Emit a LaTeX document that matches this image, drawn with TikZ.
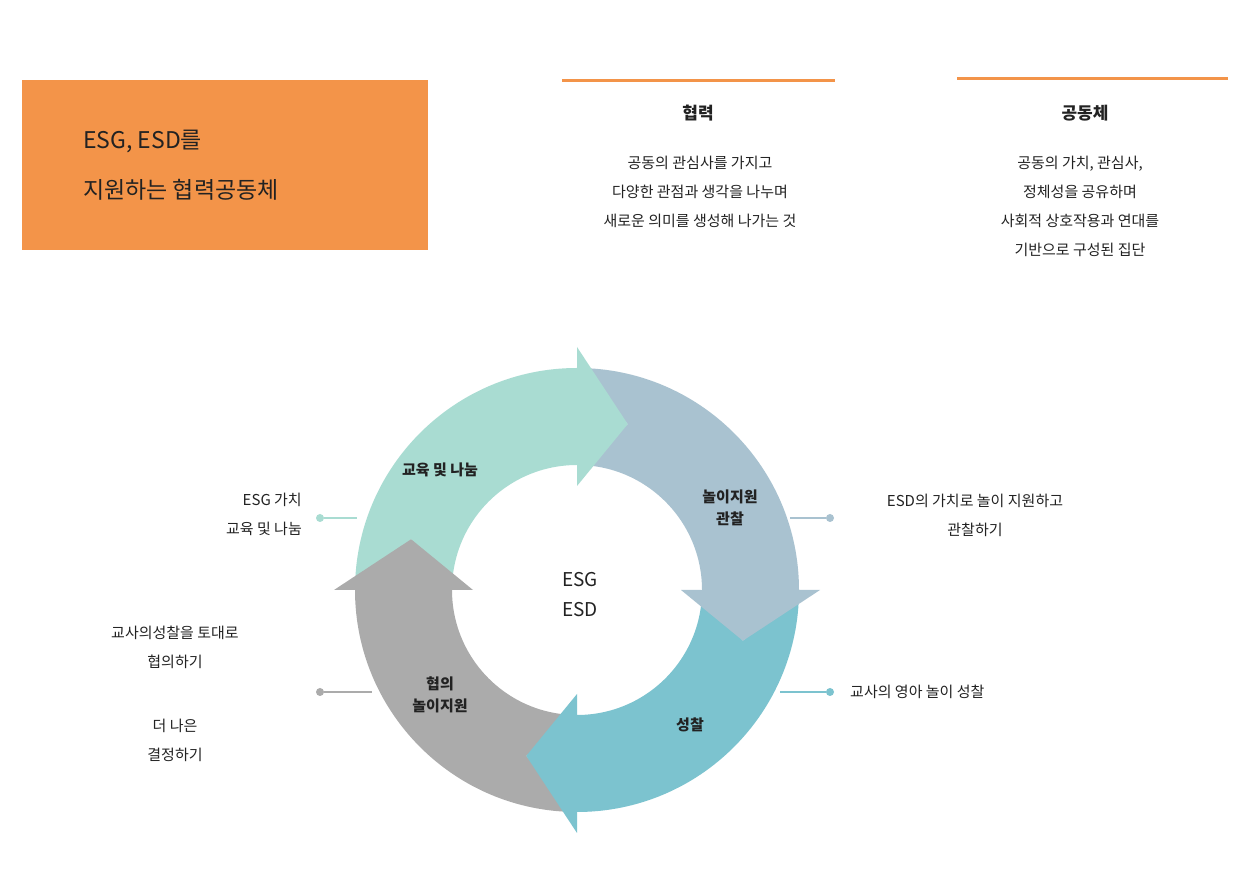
\documentclass[tikz,border=0pt]{standalone}
\usepackage{fontspec}
\setmainfont{Noto Sans CJK KR}
\definecolor{orng}{HTML}{F39449}
\definecolor{cA}{HTML}{A9DCD2}
\definecolor{cB}{HTML}{A9C2D0}
\definecolor{cC}{HTML}{7CC3CF}
\definecolor{cD}{HTML}{ABABAB}
\definecolor{txt}{HTML}{222222}
\tikzset{
 body/.style={font=\fontsize{15}{29}\selectfont, text=txt, align=center, inner sep=0pt},
 head/.style={font=\fontsize{17}{20}\selectfont\bfseries, text=txt},
 seglab/.style={font=\fontsize{15}{22}\selectfont\bfseries, text=txt, align=center},
 dotc/.style={circle, fill, inner sep=0pt, minimum size=8pt}
}
\newcommand{\segbody}[3]{%
 \fill[#3,shift={(577pt,301pt)}] (#1:222pt) arc[start angle=#1,end angle=#2,radius=222pt]
 -- (#2:125pt)
 arc[start angle=#2,end angle=#1,radius=125pt] -- ({#1-17}:173.5pt) -- cycle;}
\newcommand{\seghead}[2]{%
 \fill[#2,shift={(577pt,301pt)}] (#1:243pt) -- ({#1-17}:173.5pt) -- (#1:104pt) -- cycle;}
\begin{document}
\begin{tikzpicture}[x=1pt,y=1pt]
\useasboundingbox (0,0) rectangle (1260,891);
\fill[white] (0,0) rectangle (1260,891);
\fill[orng] (22,641) rectangle (428,811);
\node[anchor=west, font=\fontsize{23}{50}\selectfont, text=txt, align=left, inner sep=0pt] (title) at (83,726) {ESG, ESD를\\지원하는 협력공동체};
\draw[orng, line width=3pt] (562,810) -- (835,810);
\draw[orng, line width=3pt] (957,812) -- (1228,812);
\node[head] (h1) at (698,778) {협력};
\node[head] (h2) at (1085,778) {공동체};
\node[body, anchor=north] (t1) at (700,735) {공동의 관심사를 가지고\\다양한 관점과 생각을 나누며\\새로운 의미를 생성해 나가는 것};
\node[body, anchor=north] (t2) at (1080,735) {공동의 가치, 관심사,\\정체성을 공유하며\\사회적 상호작용과 연대를\\기반으로 구성된 집단};
\segbody{180}{90}{cA}
\segbody{90}{0}{cB}
\segbody{0}{-90}{cC}
\segbody{-90}{-180}{cD}
\seghead{90}{cA}
\seghead{0}{cB}
\seghead{-90}{cC}
\seghead{-180}{cD}
\node[seglab] (s1) at (440,421) {교육 및 나눔};
\node[seglab] (s2) at (730,383) {놀이지원\\관찰};
\node[seglab] (s3) at (690,166) {성찰};
\node[seglab] (s4) at (440,196) {협의\\놀이지원};
\node[font=\fontsize{19}{30}\selectfont, text=txt, align=center] (c) at (580,296) {ESG\\ESD};
\node[dotc, cA] (d1) at (320,373) {};
\coordinate (e1) at (357,373);
\draw[cA, line width=1.5pt] (d1) -- (e1);
\node[dotc, cB] (d2) at (830,373) {};
\coordinate (e2) at (790,373);
\draw[cB, line width=1.5pt] (d2) -- (e2);
\node[dotc, cC] (d3) at (830,199) {};
\coordinate (e3) at (780,199);
\draw[cC, line width=1.5pt] (d3) -- (e3);
\node[dotc, cD] (d4) at (320,199) {};
\coordinate (e4) at (372,199);
\draw[cD, line width=1.5pt] (d4) -- (e4);
\node[body, align=right, anchor=east] (l1) at (302,377) {ESG 가치\\교육 및 나눔};
\node[body] (r1) at (975,376) {ESD의 가치로 놀이 지원하고\\관찰하기};
\node[body, anchor=west] (r2) at (850,199) {교사의 영아 놀이 성찰};
\node[body] (l2) at (175,244) {교사의성찰을 토대로\\협의하기};
\node[body] (l3) at (175,151) {더 나은\\결정하기};
\end{tikzpicture}
\end{document}
